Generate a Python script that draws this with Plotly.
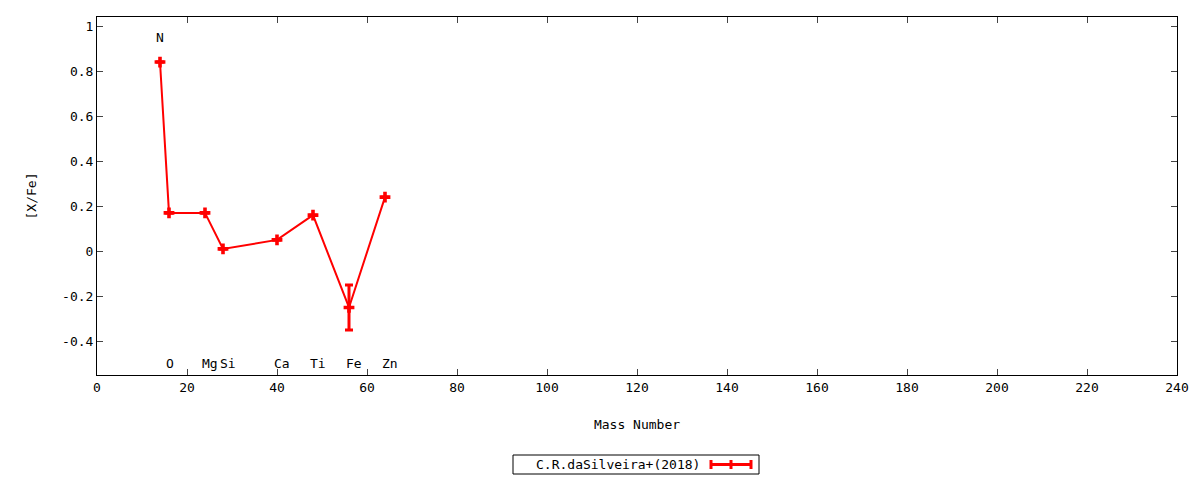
import plotly.graph_objects as go

elements = ["N", "O", "Mg", "Si", "Ca", "Ti", "Fe", "Zn"]
mass = [14, 16, 24, 28, 40, 48, 56, 64]
xfe = [0.84, 0.17, 0.17, 0.01, 0.05, 0.16, -0.25, 0.24]
err = [0, 0, 0, 0, 0, 0, 0.10, 0]
label_y = [0.95, -0.50, -0.50, -0.50, -0.50, -0.50, -0.50, -0.50]
series_name = "C.R.daSilveira+(2018)"

FONT = "DejaVu Sans Mono"
FS = 13
RED = "#ff0000"

fig = go.Figure()
fig.add_trace(go.Scatter(
    x=mass, y=xfe, mode="lines+markers", name=series_name,
    line=dict(color=RED, width=2),
    marker=dict(symbol="cross", size=9, color=RED),
    error_y=dict(type="data", array=err, visible=True, color=RED, thickness=3, width=4),
    showlegend=False,
))

for el, x, y in zip(elements, mass, label_y):
    if el == "N":
        fig.add_annotation(x=x, y=y, text=el, showarrow=False, xanchor="center",
                           font=dict(family=FONT, size=FS, color="black"))
    else:
        fig.add_annotation(x=x, y=y, text=el, showarrow=False, xanchor="left", xshift=-5,
                           font=dict(family=FONT, size=FS, color="black"))

# legend box drawn manually (text left, sample right, as in gnuplot)
W, H = 1200, 480
ml, mr, mt, mb = 97, 23, 17, 105
pw, ph = W - ml - mr, H - mt - mb
def px(xp):
    return (xp - ml) / pw
def py(yp):
    return (H - mb - yp) / ph

fig.add_shape(type="rect", xref="paper", yref="paper", x0=px(513), x1=px(759), y0=py(455), y1=py(474),
              line=dict(color="black", width=1), fillcolor="white")
fig.add_annotation(xref="paper", yref="paper", x=px(702), y=py(464.5), text=series_name, showarrow=False,
                   xanchor="right", yanchor="middle", font=dict(family=FONT, size=FS, color="black"))
fig.add_shape(type="line", xref="paper", yref="paper", x0=px(710), x1=px(752), y0=py(464.5), y1=py(464.5),
              line=dict(color=RED, width=3))
for xx in (711, 731, 751):
    fig.add_shape(type="line", xref="paper", yref="paper", x0=px(xx), x1=px(xx), y0=py(460), y1=py(469),
                  line=dict(color=RED, width=3))

fig.update_layout(
    width=W, height=H,
    margin=dict(l=ml, r=mr, t=mt, b=mb),
    paper_bgcolor="white", plot_bgcolor="white",
    font=dict(family=FONT, size=FS, color="black"),
    showlegend=False,
    xaxis=dict(range=[0, 240], dtick=20, ticks="inside", ticklen=6, mirror="allticks",
               showline=True, linecolor="black", linewidth=1, showgrid=False, zeroline=False,
               title=dict(text="Mass Number", standoff=26, font=dict(family=FONT, size=FS)),
               tickfont=dict(family=FONT, size=FS)),
    yaxis=dict(range=[-0.55, 1.04], tickvals=[-0.4, -0.2, 0, 0.2, 0.4, 0.6, 0.8, 1],
               ticktext=["-0.4", "-0.2", "0", "0.2", "0.4", "0.6", "0.8", "1"],
               ticks="inside", ticklen=6, mirror="allticks",
               showline=True, linecolor="black", linewidth=1, showgrid=False, zeroline=False,
               title=dict(text="[X/Fe]", standoff=22, font=dict(family=FONT, size=FS)),
               tickfont=dict(family=FONT, size=FS)),
)

fig.write_html("out.html", config={"displayModeBar": False},
               post_script="document.body.style.margin='0';document.body.style.overflow='hidden';")
